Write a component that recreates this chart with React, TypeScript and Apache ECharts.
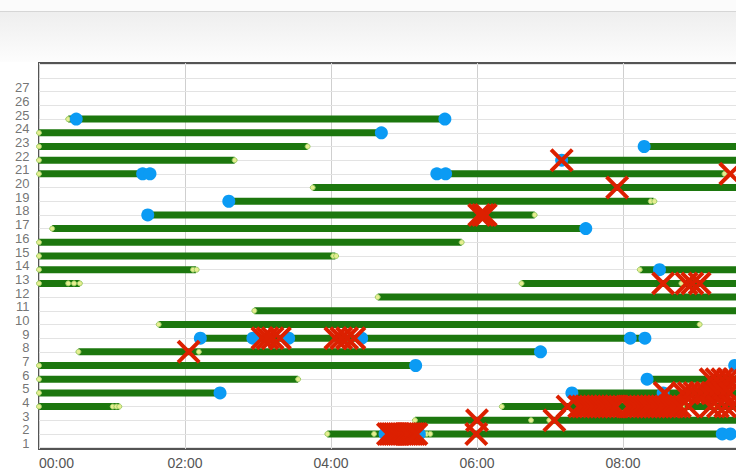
import React, { useEffect, useRef } from "react";
import * as echarts from "echarts";

// y rows (labels shown 1..27, grid lines 1..29)
const rowLabels = [1, 2, 3, 4, 5, 6, 7, 8, 9, 10, 11, 12, 13, 14, 15, 16, 17, 18, 19, 20, 21, 22, 23, 24, 25, 26, 27];
const gridRows = [1, 2, 3, 4, 5, 6, 7, 8, 9, 10, 11, 12, 13, 14, 15, 16, 17, 18, 19, 20, 21, 22, 23, 24, 25, 26, 27, 28, 29];

// [row, startHour, endHour]
const segments: [number, number, number][] = [
  [25, 0.4, 5.56],
  [24, 0, 4.69],
  [23, 0, 3.68], [23, 8.29, 12],
  [22, 0, 2.68], [22, 7.16, 12],
  [21, 0, 1.52], [21, 5.45, 9.4],
  [20, 3.75, 12],
  [19, 2.6, 8.42],
  [18, 1.49, 6.79],
  [17, 0.18, 7.49],
  [16, 0, 5.79],
  [15, 0, 4.06],
  [14, 0, 2.15], [14, 8.23, 12],
  [13, 0, 0.56], [13, 6.61, 12],
  [12, 4.64, 12],
  [11, 2.95, 12],
  [10, 1.64, 9.05],
  [9, 2.21, 8.3],
  [8, 0.54, 6.87],
  [7, 0, 5.16], [7, 9.53, 12],
  [6, 0, 3.55], [6, 8.33, 12],
  [5, 0, 2.48], [5, 7.3, 12],
  [4, 0, 1.1], [4, 6.34, 12],
  [3, 5.15, 12],
  [2, 3.95, 9.45],
];

// [hour, row]
const dotMarks: [number, number][] = [
  [0.4, 25], [0, 24], [0, 23], [3.68, 23], [0, 22], [2.68, 22], [0, 21], [9.39, 21],
  [3.75, 20], [8.38, 19], [8.43, 19], [6.79, 18], [0.18, 17], [0, 16], [5.79, 16],
  [0, 15], [4.03, 15], [4.07, 15], [0, 14], [2.11, 14], [2.16, 14], [8.23, 14],
  [0, 13], [0.4, 13], [0.48, 13], [0.56, 13], [6.61, 13], [8.8, 13],
  [4.64, 12], [2.95, 11], [1.64, 10], [9.05, 10], [0.54, 8], [2.19, 8],
  [0, 7], [0, 6], [3.55, 6], [0, 5],
  [0, 4], [1.01, 4], [1.06, 4], [1.1, 4], [6.34, 4], [8.13, 4], [8.81, 4], [9.25, 4],
  [5.15, 3], [6.74, 3], [6.99, 3],
  [3.95, 2], [4.59, 2], [5.31, 2], [5.36, 2],
];

const blueMarks: [number, number][] = [
  [0.51, 25], [5.56, 25], [4.69, 24], [8.29, 23], [7.16, 22],
  [1.42, 21], [1.52, 21], [5.45, 21], [5.57, 21],
  [2.6, 19], [1.49, 18], [7.49, 17], [8.5, 14],
  [2.21, 9], [2.93, 9], [3.42, 9], [4.42, 9], [8.1, 9], [8.3, 9],
  [6.87, 8], [5.16, 7], [9.53, 7], [8.33, 6],
  [2.48, 5], [7.3, 5], [8.55, 5],
  [4.74, 2], [5.21, 2], [9.36, 2], [9.47, 2],
];

const redMarks: [number, number][] = [
  [7.16, 22], [9.47, 21], [7.92, 20], [6.03, 18], [6.08, 18], [6.12, 18],
  [8.55, 13], [8.87, 13], [8.95, 13], [9.05, 13],
  [3.06, 9], [3.13, 9], [3.2, 9], [3.3, 9],
  [4.06, 9], [4.14, 9], [4.22, 9], [4.32, 9],
  [2.05, 8],
  [9.2, 6], [9.28, 6], [9.36, 6], [9.44, 6], [9.52, 6],
  [8.57, 5], [8.82, 5], [8.9, 5], [8.98, 5], [9.06, 5], [9.14, 5], [9.22, 5], [9.3, 5], [9.38, 5], [9.46, 5],
  [7.24, 4], [7.4, 4], [7.45, 4], [7.5, 4], [7.55, 4], [7.6, 4], [7.65, 4], [7.7, 4], [7.75, 4], [7.8, 4],
  [7.85, 4], [7.9, 4], [8.08, 4], [8.13, 4], [8.18, 4], [8.23, 4], [8.28, 4], [8.33, 4], [8.38, 4], [8.43, 4],
  [8.48, 4], [8.53, 4], [8.58, 4], [8.63, 4], [8.68, 4], [8.73, 4], [8.78, 4], [8.9, 4], [9.2, 4], [9.3, 4],
  [9.4, 4], [9.5, 4],
  [6.0, 3], [7.06, 3],
  [4.78, 2], [4.81, 2], [4.84, 2], [4.87, 2], [4.9, 2], [4.93, 2], [4.96, 2], [4.99, 2], [5.02, 2],
  [5.05, 2], [5.08, 2], [5.11, 2], [5.14, 2], [5.17, 2], [5.99, 2],
];

const X_PATH =
  "path://M0,2.8 L2.8,0 L12,9.2 L21.2,0 L24,2.8 L14.8,12 L24,21.2 L21.2,24 L12,14.8 L2.8,24 L0,21.2 L9.2,12 Z";

const CHART_W = 935;
const CHART_H = 470;

export default function App() {
  const ref = useRef<HTMLDivElement>(null);

  useEffect(() => {
    if (!ref.current) return;
    const chart = echarts.init(ref.current, null, { renderer: "svg" });
    const pad = (v: number) => (v > 8 ? "" : (v < 10 ? "0" + v : "" + v) + ":00");
    chart.setOption({
      animation: false,
      backgroundColor: "#ffffff",
      textStyle: { fontFamily: "Liberation Sans, Arial, sans-serif" },
      graphic: [
        { type: "rect", shape: { x: 0, y: 0, width: CHART_W, height: 11 }, style: { fill: "#fbfbfb" }, z: -10, silent: true },
        {
          type: "rect",
          shape: { x: 0, y: 11, width: CHART_W, height: 51 },
          style: {
            fill: new echarts.graphic.LinearGradient(0, 0, 0, 1, [
              { offset: 0, color: "#eeeeee" },
              { offset: 1, color: "#fdfdfd" },
            ]),
          },
          z: -10,
          silent: true,
        },
        { type: "line", shape: { x1: 0, y1: 11.5, x2: CHART_W, y2: 11.5 }, style: { stroke: "#d6d6d6", lineWidth: 1 }, z: -9, silent: true },
      ],
      grid: {
        left: 39,
        top: 63,
        right: CHART_W - 39 - 876,
        bottom: 20,
        show: true,
        backgroundColor: "#ffffff",
        borderColor: "#545454",
        borderWidth: 2,
      },
      xAxis: {
        type: "value",
        min: 0,
        max: 12,
        interval: 2,
        axisLine: { show: false },
        axisTick: { show: false },
        axisLabel: {
          formatter: (v: number) => pad(v),
          color: "#555555",
          fontSize: 14,
          margin: 7,
          alignMinLabel: "left",
        },
        splitLine: { show: true, lineStyle: { color: "#cfcfcf", width: 1 } },
      },
      yAxis: {
        type: "value",
        min: 0.9,
        max: 29.1,
        axisLine: { show: false },
        axisTick: { show: false },
        splitLine: { show: false },
        axisLabel: { show: false },
      },
      series: [
        {
          type: "custom",
          name: "bars",
          data: segments,
          encode: { x: [1, 2], y: 0 },
          renderItem: (params: any, api: any) => {
            const row = api.value(0);
            const p1 = api.coord([api.value(1), row]);
            const p2 = api.coord([api.value(2), row]);
            return {
              type: "line",
              shape: { x1: p1[0], y1: p1[1], x2: p2[0], y2: p2[1] },
              style: { stroke: "#1c770e", lineWidth: 7, lineCap: "butt" },
            };
          },
          markLine: {
            silent: true,
            symbol: "none",
            z: 1,
            label: { show: false },
            lineStyle: { color: "#e3e3e3", width: 1, type: "solid" },
            data: gridRows.map((r) => ({ yAxis: r })),
          },
        },
        {
          type: "scatter",
          name: "rowLabels",
          data: rowLabels.map((r) => [0, r]),
          symbol: "circle",
          symbolSize: 1,
          silent: true,
          z: 0,
          itemStyle: { color: "transparent" },
          label: {
            show: true,
            position: "left",
            distance: 9,
            offset: [0, -4],
            formatter: (p: any) => String(p.value[1]),
            color: "#505050",
            fontSize: 13,
            lineHeight: 12,
            fontFamily: "Liberation Sans, Arial, sans-serif",
          },
        },
        {
          type: "scatter",
          name: "dots",
          data: dotMarks,
          symbol: "circle",
          symbolSize: 5,
          itemStyle: { color: "#e6ee90", borderColor: "#9ccc65", borderWidth: 1, opacity: 1 },
        },
        {
          type: "scatter",
          name: "blue",
          data: blueMarks,
          symbol: "circle",
          symbolSize: 13,
          itemStyle: { color: "#0b9bf4", opacity: 1 },
        },
        {
          type: "scatter",
          name: "red",
          data: redMarks,
          symbol: X_PATH,
          symbolSize: 24,
          itemStyle: { color: "#dc2000", opacity: 1 },
        },
      ],
    });
    return () => chart.dispose();
  }, []);

  return (
    <div
      style={{
        position: "fixed",
        left: 0,
        top: 0,
        width: 736,
        height: 470,
        overflow: "hidden",
        background: "#ffffff",
      }}
    >
      <div ref={ref} style={{ width: CHART_W, height: CHART_H }} />
    </div>
  );
}
